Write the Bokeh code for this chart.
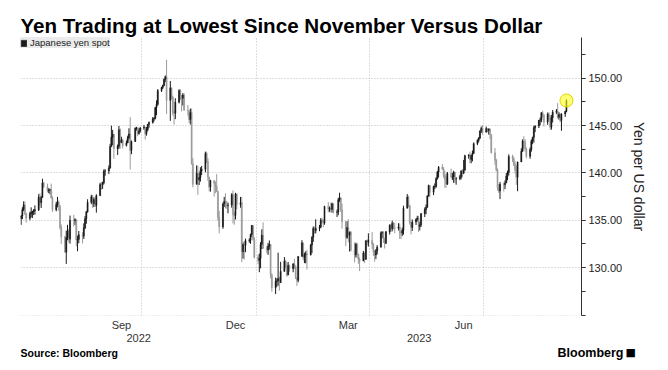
import pandas as pd
from bokeh.plotting import figure
from bokeh.layouts import column
from bokeh.models import (FixedTicker, NumeralTickFormatter, LinearAxis, Legend, LegendItem,
                          ColumnDataSource, Range1d, Grid)
from bokeh.core.properties import value
from bokeh.embed import file_html
from bokeh.resources import INLINE

# ---------------- data (USD/JPY daily) ----------------
START = "2022-06-27"          # first trading day shown (Monday)
first_open = 135.20

close = [
    135.45, 136.13, 136.62, 135.73, 135.22,
    135.70, 135.85, 135.94, 136.01, 136.11,
    137.43, 136.86, 137.42, 138.94, 138.56,
    138.15, 138.19, 138.22, 137.36, 136.12,
    136.67, 136.91, 136.53, 134.25, 133.28,
    131.63, 133.17, 133.89, 133.01, 134.99,
    134.95, 135.07, 132.92, 132.99, 133.47,
    133.33, 134.21, 135.16, 135.89, 136.90,
    137.49, 136.76, 137.20, 136.57, 137.60,
    138.77, 138.75, 138.96, 140.20, 140.20,
    140.53, 142.78, 143.78, 144.09, 142.56,
    142.83, 144.56, 143.19, 143.49, 142.90,
    143.18, 143.70, 144.12, 142.37, 143.32,
    144.73, 144.75, 144.16, 144.46, 144.74,
    144.82, 144.13, 144.60, 145.13, 145.33,
    145.70, 145.78, 146.88, 147.24, 148.69,
    149.01, 149.22, 149.90, 150.15, 147.66,
    148.98, 148.02, 146.36, 146.30, 147.47,
    148.70, 148.19, 147.88, 148.22, 146.62,
    146.60, 145.64, 146.37, 140.98, 138.80,
    139.95, 139.27, 139.52, 140.23, 140.38,
    142.05, 141.20, 139.56, 138.51, 139.20,
    138.91, 138.60, 138.05, 135.29, 134.31,
    136.72, 137.00, 136.63, 136.57, 136.61,
    137.71, 135.61, 135.50, 137.79, 136.66,
    136.86, 131.69, 132.45, 132.37, 132.86,
    132.90, 133.51, 134.46, 133.00, 131.12,
    130.77, 131.00, 132.46, 133.43, 132.07,
    131.87, 132.26, 132.44, 129.25, 127.88,
    128.56, 128.58, 128.86, 128.42, 129.60,
    130.69, 130.18, 129.22, 130.24, 129.89,
    130.39, 130.09, 128.94, 128.66, 131.19,
    132.62, 131.09, 131.41, 131.44, 131.35,
    132.38, 133.20, 134.14, 133.91, 134.16,
    134.27, 135.02, 134.91, 134.71, 136.47,
    136.21, 136.29, 136.15, 136.75, 135.84,
    135.89, 137.17, 137.36, 136.07, 134.87,
    133.20, 134.24, 133.44, 133.73, 131.85,
    131.35, 132.47, 131.44, 130.88, 130.74,
    131.55, 130.90, 132.85, 132.70, 132.86,
    132.45, 131.67, 131.33, 131.79, 132.16,
    133.67, 133.70, 133.05, 132.59, 133.78,
    134.49, 134.11, 134.70, 134.23, 134.16,
    134.30, 133.72, 133.65, 133.93, 136.27,
    137.46, 136.53, 134.70, 134.25, 134.82,
    135.11, 135.24, 134.35, 134.52, 135.70,
    136.14, 136.37, 137.56, 138.67, 137.97,
    138.58, 138.58, 139.38, 140.07, 140.60,
    140.42, 139.80, 139.34, 138.82, 139.95,
    139.58, 139.58, 140.10, 139.36, 139.39,
    139.61, 140.22, 139.99, 140.28, 141.82,
    141.88, 141.43, 141.83, 142.08, 143.09,
    143.46, 143.70, 144.42, 144.70, 144.31,
    144.68, 144.48, 144.65, 144.07, 142.12,
    141.34, 140.36, 138.46, 138.09, 138.80,
    138.75, 138.94, 139.64, 140.07, 141.74,
    141.48, 140.91, 140.31, 139.56, 141.16,
    142.29, 143.36, 143.32, 142.56, 141.76,
    142.47, 143.37, 143.76, 144.77, 144.95,
    145.57, 145.58, 146.35, 146.15, 145.37,
    146.21, 145.89, 144.83, 145.83, 146.42,
    146.52, 145.87, 146.19, 145.54, 146.22,
    146.48, 147.65,
]

high = [
    135.57, 136.38, 137.00, 136.99, 135.80,
    135.90, 136.37, 136.00, 136.20, 136.57,
    137.75, 137.87, 137.58, 139.39, 139.07,
    138.88, 138.41, 138.33, 138.88, 137.53,
    136.96, 137.47, 137.10, 136.59, 134.55,
    133.33, 133.91, 134.52, 134.09, 135.50,
    135.58, 135.22, 135.03, 133.38, 133.87,
    133.73, 134.68, 135.45, 136.00, 137.22,
    137.70, 137.67, 137.43, 137.44, 137.75,
    138.96, 139.04, 139.07, 140.38, 140.40,
    140.80, 143.08, 144.99, 144.55, 144.08,
    143.00, 144.96, 144.70, 143.82, 143.61,
    143.43, 143.93, 144.71, 145.90, 143.43,
    144.80, 144.87, 144.81, 144.73, 144.86,
    145.07, 144.88, 144.85, 145.16, 145.43,
    145.90, 145.87, 146.98, 147.67, 148.86,
    149.10, 149.32, 149.95, 150.29, 151.95,
    149.71, 149.03, 148.16, 146.61, 147.89,
    148.83, 148.83, 148.18, 148.43, 148.40,
    147.17, 146.59, 146.80, 146.80, 141.57,
    140.79, 140.78, 140.03, 140.60, 140.74,
    142.25, 142.24, 141.57, 139.58, 139.27,
    139.14, 139.10, 139.89, 138.03, 135.99,
    136.87, 137.47, 137.86, 137.06, 136.88,
    137.86, 138.16, 135.91, 137.90, 137.77,
    137.47, 137.48, 132.68, 132.82, 133.07,
    133.10, 133.59, 134.50, 134.44, 133.24,
    131.38, 131.48, 132.70, 134.05, 134.78,
    132.32, 132.61, 132.87, 132.48, 129.40,
    128.95, 128.87, 131.58, 129.03, 130.62,
    131.12, 130.85, 130.54, 130.60, 130.33,
    130.48, 130.93, 130.25, 128.97, 131.20,
    132.90, 132.43, 131.59, 131.73, 131.88,
    132.50, 133.32, 134.35, 134.35, 135.11,
    134.51, 135.23, 135.27, 135.10, 136.53,
    136.92, 136.45, 136.89, 136.86, 136.82,
    136.13, 137.38, 137.91, 137.45, 136.77,
    134.87, 134.90, 135.11, 133.82, 133.89,
    132.65, 132.63, 132.63, 131.49, 131.08,
    131.77, 131.60, 132.88, 133.00, 133.62,
    133.75, 132.60, 131.86, 131.96, 132.38,
    133.82, 133.85, 133.84, 133.14, 133.87,
    134.57, 134.61, 134.96, 134.80, 134.74,
    134.70, 134.67, 133.93, 134.21, 136.54,
    137.77, 137.60, 136.66, 134.85, 135.09,
    135.19, 135.48, 135.47, 134.84, 135.77,
    136.36, 136.68, 137.65, 138.75, 138.75,
    138.65, 138.90, 139.55, 140.23, 140.73,
    140.93, 140.62, 140.20, 139.72, 140.10,
    140.45, 139.98, 140.23, 140.10, 139.57,
    139.81, 140.24, 140.42, 141.38, 141.92,
    141.98, 142.25, 141.94, 142.37, 143.22,
    143.54, 143.77, 144.51, 144.90, 145.07,
    144.90, 144.68, 144.70, 144.68, 144.02,
    142.63, 141.50, 140.47, 138.84, 139.05,
    139.00, 139.21, 139.99, 140.25, 141.96,
    141.92, 141.72, 141.25, 140.79, 141.18,
    142.61, 143.55, 143.88, 143.58, 142.70,
    142.69, 143.54, 143.82, 144.98, 145.03,
    145.58, 145.86, 146.41, 146.56, 146.08,
    146.38, 146.40, 146.09, 146.12, 146.64,
    146.75, 147.37, 146.43, 146.28, 146.30,
    146.58, 147.76,
]

low = [
    134.52, 135.12, 135.98, 135.56, 134.75,
    135.00, 135.30, 135.25, 135.55, 135.60,
    135.98, 136.55, 136.30, 137.40, 138.38,
    137.95, 137.87, 137.75, 137.32, 135.88,
    135.95, 136.38, 135.99, 134.06, 132.51,
    131.60, 130.40, 132.90, 132.66, 132.53,
    134.35, 134.52, 132.25, 131.73, 132.58,
    132.56, 133.03, 134.08, 134.63, 135.82,
    136.70, 136.31, 136.40, 136.41, 135.81,
    137.62, 138.20, 138.31, 138.80, 139.70,
    139.88, 140.45, 142.77, 142.93, 141.50,
    141.90, 142.55, 142.55, 143.19, 142.60,
    142.80, 143.14, 143.53, 140.36, 141.98,
    143.28, 144.48, 143.88, 144.05, 144.26,
    144.54, 143.53, 143.94, 144.39, 144.77,
    145.21, 145.42, 145.65, 146.10, 147.10,
    148.55, 148.86, 149.17, 149.59, 146.23,
    145.50, 147.77, 146.06, 145.11, 145.68,
    147.34, 147.70, 146.50, 147.12, 146.60,
    146.06, 145.26, 145.11, 140.88, 138.48,
    138.89, 137.68, 138.73, 139.08, 139.78,
    140.06, 141.03, 139.16, 138.06, 138.02,
    137.50, 137.86, 137.98, 134.95, 133.62,
    134.11, 136.40, 136.25, 136.22, 135.74,
    136.33, 134.67, 134.53, 135.08, 136.19,
    136.33, 130.58, 130.96, 130.86, 131.63,
    132.63, 132.52, 133.23, 132.85, 130.96,
    130.41, 129.52, 129.93, 131.96, 131.98,
    131.51, 131.35, 131.90, 128.86, 127.46,
    127.22, 127.99, 128.09, 127.58, 128.38,
    129.67, 129.92, 129.03, 129.41, 129.57,
    129.52, 129.89, 128.79, 128.08, 128.46,
    131.31, 130.78, 130.48, 130.46, 129.80,
    131.29, 131.53, 132.72, 133.60, 133.61,
    133.85, 134.16, 134.65, 134.27, 134.53,
    135.83, 135.90, 135.81, 135.82, 135.73,
    135.35, 135.54, 136.94, 135.87, 134.11,
    132.28, 133.05, 132.67, 131.71, 131.71,
    130.55, 131.07, 131.04, 130.40, 129.64,
    130.67, 130.48, 130.83, 132.36, 132.23,
    131.98, 131.25, 130.63, 130.91, 131.40,
    132.15, 133.12, 132.61, 132.02, 132.50,
    133.50, 133.78, 133.83, 134.02, 133.63,
    133.93, 133.02, 133.02, 133.34, 133.49,
    136.27, 136.37, 134.54, 133.51, 133.88,
    134.51, 134.88, 133.75, 133.93, 134.30,
    135.34, 135.65, 136.34, 137.51, 137.42,
    137.66, 138.29, 138.43, 139.30, 139.52,
    140.32, 139.51, 138.43, 138.44, 138.73,
    139.42, 139.25, 138.95, 138.95, 138.76,
    139.24, 139.32, 139.52, 139.87, 140.30,
    141.50, 141.01, 141.03, 141.22, 142.00,
    142.94, 143.22, 143.57, 144.21, 144.05,
    144.26, 144.30, 144.05, 143.57, 142.07,
    140.86, 140.15, 138.16, 137.89, 137.24,
    138.05, 138.30, 138.97, 139.24, 139.74,
    141.16, 140.73, 139.93, 138.74, 138.07,
    141.24, 142.24, 142.58, 142.27, 141.53,
    141.50, 142.25, 143.04, 143.20, 144.31,
    144.74, 145.04, 145.35, 145.86, 144.91,
    145.08, 145.55, 144.54, 144.57, 145.33,
    146.22, 145.74, 145.63, 145.36, 144.45,
    145.92, 146.41,
]

series_name = "Japanese yen spot"
title_text = "Yen Trading at Lowest Since November Versus Dollar"
y_ticks = [130, 135, 140, 145, 150]
y_label = "Yen per US dollar"
month_labels = {"2022-09-15": "Sep", "2022-12-15": "Dec", "2023-03-15": "Mar", "2023-06-15": "Jun"}
quarter_lines = ["2022-10-01", "2023-01-01", "2023-04-01", "2023-07-01"]
years = ["2022", "2023"]
source_text = "Source: Bloomberg"
brand_text = "Bloomberg"

# ---------------- prep ----------------
n = min(len(close), len(high), len(low))
close, high, low = close[:n], high[:n], low[:n]
base = pd.Timestamp(START)
dates = pd.bdate_range(START, periods=n)
day = [(d - base).days for d in dates]
opens = [first_open] + close[:-1]

def dnum(s):
    return (pd.Timestamp(s) - base).days

UP, DOWN = "#1a1a1a", "#9a9a9a"
is_up = [c >= o for o, c in zip(opens, close)]
top = [max(o, c) for o, c in zip(opens, close)]
bot = [min(o, c) for o, c in zip(opens, close)]
hi = [max(h, t) for h, t in zip(high, top)]
lo = [min(l, b) for l, b in zip(low, bot)]

def sub(flag):
    idx = [i for i in range(n) if is_up[i] == flag]
    return ColumnDataSource(dict(x=[day[i] for i in idx], top=[top[i] for i in idx],
                                 bot=[bot[i] for i in idx], hi=[hi[i] for i in idx],
                                 lo=[lo[i] for i in idx]))
src_up, src_dn = sub(True), sub(False)

X0, X1 = -0.5, 447.0
Y0, Y1 = 124.95, 154.3

W = 664
p = figure(width=W, height=344, output_backend="svg", toolbar_location=None,
           x_range=Range1d(X0, X1), y_range=Range1d(Y0, Y1),
           y_axis_location="right", x_axis_location=None,
           min_border_left=20, min_border_right=W - 581, min_border_top=37, min_border_bottom=29)
p.frame_align = False
p.outline_line_color = None
p.background_fill_color = "white"
p.border_fill_color = "white"
p.xgrid.visible = False
p.ygrid.visible = False

# title
p.title.text = title_text
p.title.text_font = "Liberation Sans"
p.title.text_font_size = "20.6px"
p.title.text_font_style = "bold"
p.title.text_color = "#000000"
p.title.align = "left"
p.title.standoff = 2

# grids
p.add_layout(Grid(dimension=1, ticker=FixedTicker(ticks=[125] + y_ticks),
                  grid_line_color="#bdbdbd", grid_line_dash="1 2", grid_line_width=1))
p.add_layout(Grid(dimension=0, ticker=FixedTicker(ticks=[dnum(q) for q in quarter_lines]),
                  grid_line_color="#bdbdbd", grid_line_dash="1 2", grid_line_width=1))

# candles
for s, c in ((src_dn, DOWN), (src_up, UP)):
    p.segment(x0="x", y0="lo", x1="x", y1="hi", source=s, line_color=c, line_width=1)
r_dn = p.vbar(x="x", width=0.85, top="top", bottom="bot", source=src_dn,
              fill_color=DOWN, line_color=DOWN, line_width=0.5)
r_up = p.vbar(x="x", width=0.85, top="top", bottom="bot", source=src_up,
              fill_color=UP, line_color=UP, line_width=0.5)

# last point highlight
p.scatter(x=[day[-1]], y=[close[-1]], size=13, marker="circle",
          fill_color="#ffff1a", fill_alpha=0.6, line_color="#e3d400", line_width=1)

# right y axis
ya = p.yaxis[0]
ya.ticker = FixedTicker(ticks=y_ticks, minor_ticks=[125 + 2.5 * i for i in range(12)])
ya.formatter = NumeralTickFormatter(format="0.00")
ya.major_tick_in = 0
ya.major_tick_out = 4
ya.minor_tick_in = 0
ya.minor_tick_out = 4
ya.axis_line_color = "#333333"
ya.major_tick_line_color = "#333333"
ya.minor_tick_line_color = "#333333"
ya.major_label_text_font = "Liberation Sans"
ya.major_label_text_font_size = "11px"
ya.major_label_text_color = "#222222"
ya.major_label_standoff = 3
ya.axis_label = y_label
ya.axis_label_text_font = "Liberation Sans"
ya.axis_label_text_font_size = "14px"
ya.axis_label_text_font_style = "normal"
ya.axis_label_text_color = "#222222"
ya.axis_label_standoff = 6

# bottom: months and years
m_ticks = [dnum(k) for k in month_labels]
mx = LinearAxis(ticker=FixedTicker(ticks=m_ticks),
                major_label_overrides={dnum(k): v for k, v in month_labels.items()},
                axis_line_color=None, major_tick_line_color=None, minor_tick_line_color=None,
                major_tick_out=0, minor_tick_out=0, major_tick_in=0, minor_tick_in=0,
                major_label_standoff=3, major_label_text_font="Liberation Sans",
                major_label_text_font_size="11px", major_label_text_color="#333333")
p.add_layout(mx, "below")
jan1 = dnum("2023-01-01")
y_ticks_x = [(X0 + jan1) / 2.0, (jan1 + X1) / 2.0]
yx = LinearAxis(ticker=FixedTicker(ticks=y_ticks_x),
                major_label_overrides={t: v for t, v in zip(y_ticks_x, years)},
                axis_line_color=None, major_tick_line_color=None, minor_tick_line_color=None,
                major_tick_out=0, minor_tick_out=0, major_tick_in=0, minor_tick_in=0,
                major_label_standoff=0, major_label_text_font="Liberation Sans",
                major_label_text_font_size="11px", major_label_text_color="#333333")
p.add_layout(yx, "below")

# legend
legend = Legend(items=[LegendItem(label=series_name, renderers=[r_up])],
                location="top_left", margin=0, padding=5, spacing=0,
                glyph_width=7, glyph_height=8, label_standoff=3,
                label_text_font="Liberation Sans", label_text_font_size="9.5px",
                label_height=11, label_text_color="#222222",
                background_fill_color="#ebebeb", background_fill_alpha=1.0,
                border_line_color=None)
p.add_layout(legend)

# footer strip (pixel coordinates, y downward)
FH = 22
f = figure(width=W, height=FH, output_backend="svg", toolbar_location=None,
           x_range=Range1d(0, W), y_range=Range1d(FH, 0),
           x_axis_location=None, y_axis_location=None,
           min_border=0, min_border_left=0, min_border_right=0,
           min_border_top=0, min_border_bottom=0)
f.frame_align = False
f.outline_line_color = None
f.xgrid.visible = False
f.ygrid.visible = False
f.text(x=[20], y=[8], text=[source_text], text_font=value("Liberation Sans"),
       text_font_size=value("10.5px"), text_font_style="bold", text_color="#000000",
       text_baseline="middle", text_align="left")
f.text(x=[623], y=[8], text=[brand_text], text_font=value("Liberation Sans"),
       text_font_size=value("12.5px"), text_font_style="bold", text_color="#000000",
       text_baseline="middle", text_align="right")
f.text(x=[625], y=[8], text=["\u25A0"], text_font=value("DejaVu Sans"),
       text_font_size=value("11px"), text_color="#000000",
       text_baseline="middle", text_align="left")

layout = column(p, f, spacing=0)
open("out.html", "w").write(file_html(layout, INLINE))
